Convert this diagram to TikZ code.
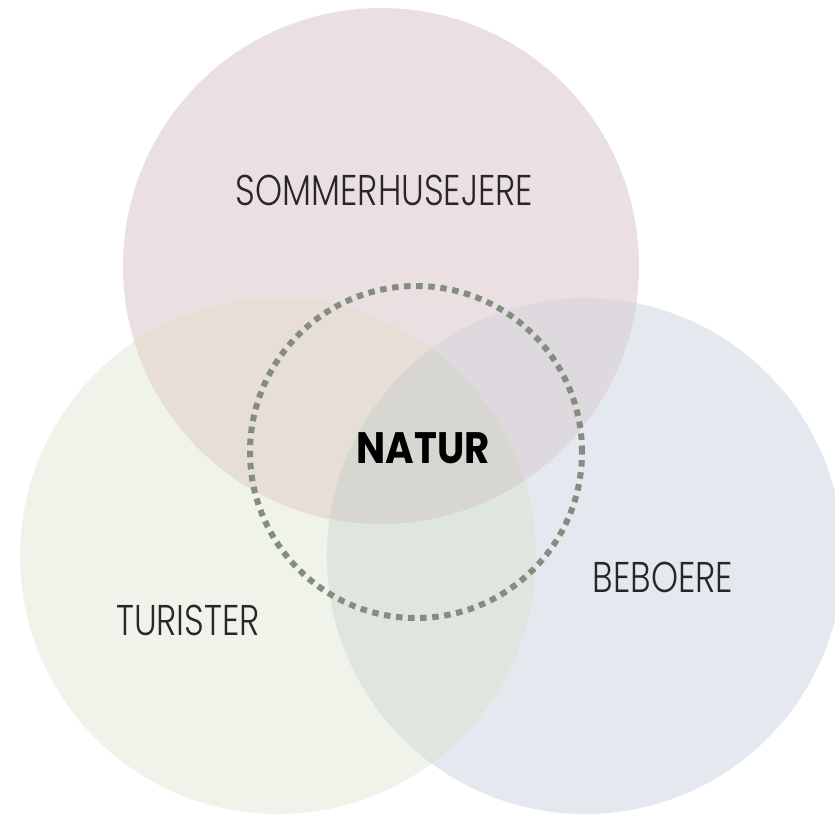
\documentclass[tikz,border=0pt]{standalone}
\usepackage{fontspec}
\newfontfamily\lightlabel{Poppins Light}[FakeStretch=0.8]
\newfontfamily\boldlabel{Poppins Bold}[FakeStretch=0.88]
\definecolor{cpink}{RGB}{235,224,225}
\definecolor{cgreen}{RGB}{239,243,233}
\definecolor{cblue}{RGB}{228,233,240}
\definecolor{cpg}{RGB}{231,223,214}
\definecolor{cpb}{RGB}{222,217,223}
\definecolor{cgb}{RGB}{223,230,223}
\definecolor{cpgb}{RGB}{215,214,208}
\definecolor{cdash}{RGB}{132,142,127}
\definecolor{ctext}{RGB}{40,38,38}
\tikzset{
  lbl/.style={font=\lightlabel\fontsize{43}{43}\selectfont, text=ctext, inner sep=0pt},
  mainlbl/.style={font=\boldlabel\fontsize{44}{44}\selectfont, text=black, inner sep=0pt},
  dashring/.style={draw=cdash, line width=6pt, dash pattern=on 6.5pt off 5.6pt}
}
\begin{document}
\begin{tikzpicture}[x=1pt,y=-1pt]
\useasboundingbox (0,0) rectangle (835,815);
\clip (0,0) rectangle (835,815);
\def\Ppath{(381,266) circle (258)}
\def\Gpath{(278,556) circle (258)}
\def\Bpath{(585,556) circle (258)}
\fill[cgreen] \Gpath;
\fill[cblue] \Bpath;
\fill[cpink] \Ppath;
\begin{scope}\clip \Ppath; \fill[cpg] \Gpath; \end{scope}
\begin{scope}\clip \Ppath; \fill[cpb] \Bpath; \end{scope}
\begin{scope}\clip \Gpath; \fill[cgb] \Bpath; \end{scope}
\begin{scope}\clip \Ppath; \clip \Gpath; \fill[cpgb] \Bpath; \end{scope}
\node[circle, minimum size=332pt, inner sep=0pt, dashring] (ring) at (416,452) {};
\node[lbl] (sommer) at (384.5,190) {SOMMERHUSEJERE};
\node[lbl] (turister) at (188,620) {TURISTER};
\node[lbl] (beboere) at (663,577) {BEBOERE};
\node[mainlbl] (natur) at (423,448) {NATUR};
\end{tikzpicture}
\end{document}
